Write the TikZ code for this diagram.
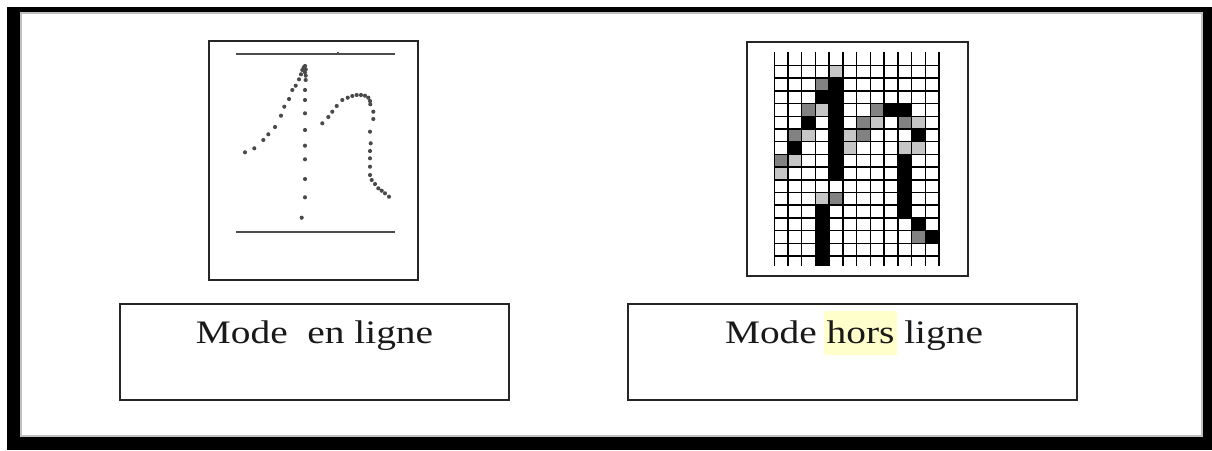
\documentclass[tikz,border=0pt]{standalone}
\usepackage{graphicx}
\usepackage{fontspec}
\setmainfont{Liberation Serif}
\usetikzlibrary{fit}
\definecolor{dotc}{HTML}{4A4A4A}
\definecolor{midgray}{HTML}{828282}
\definecolor{lightgray}{HTML}{C6C6C6}
\definecolor{hl}{HTML}{FFFFCC}
\begin{document}
\begin{tikzpicture}[x=0.75pt,y=-0.75pt,
  panel/.style={draw=black!85, line width=1.4pt, inner sep=0pt},
  labelbox/.style={draw=black!85, line width=1.4pt, inner sep=0pt},
  labeltext/.style={anchor=base, inner sep=0pt, text=black!90, font=\fontsize{24.6}{28}\selectfont},
  rule/.style={draw=black!70, line width=0.8pt},
  gridline/.style={draw=black, line width=1.1pt},
  pt/.style={fill=dotc}]
\useasboundingbox (0,0) rectangle (1212,450);

% outer frame
\fill[black] (7,7) rectangle (1212,450);
\fill[white] (20,12) rectangle (1203,437);
\draw[black!25, line width=1.2pt] (21,13) rectangle (1202,436);

% online panel: sampled pen trajectory
\node[panel, fit={(209,41) (418,280)}] (onpanel) {};
\coordinate (topA) at (236,54);
\coordinate (topB) at (395,54);
\coordinate (botA) at (236,232);
\coordinate (botB) at (395,232);
\coordinate (tickA) at (338,52);
\coordinate (tickB) at (338,54);
\draw[rule] (topA) -- (topB);
\draw[rule] (botA) -- (botB);
\draw[rule] (tickA) -- (tickB);
\foreach \x/\y in {245/152.3, 254.3/148.3, 263.3/140, 268.3/134.3, 275/127,
  281/115.7, 284.3/106.7, 289/99, 292.3/90, 295.7/85.7, 299/79.3, 301/74.3,
  302.3/70, 303.7/67.3, 305/66, 305.7/69.3, 305/72.3, 305.7/75.7, 305.7/80,
  305/90, 305/100, 305/113.3, 305/130, 305/145.7, 305/159.3, 305/179,
  305/197.3, 301.7/217.7,
  322.3/123.3, 328.3/117, 332.3/111.7, 336.7/106, 342.3/100, 347.7/97.7,
  352.3/96, 356.7/95, 361/95, 365/95.7, 368.3/97.7, 370/101, 370.3/104.3,
  373.3/111.7, 373.3/119, 370/131.7, 370.7/143.3, 370/151, 370/158.3,
  370/166.7, 370/175, 371.7/180, 375/184, 378.3/188.3, 381.7/190.7,
  385/193.3, 389/196.7}
  \fill[pt] (\x,\y) circle[radius=1.55pt];

% offline panel: pixel grid
\node[panel, fit={(747,42) (968,276)}] (offpanel) {};
\def\gx{774.3}\def\gy{65.5}\def\cw{13.72}\def\ch{12.7}
\newcommand\pixcell[3]{\fill[#3] (\gx+\cw*#1,\gy+\ch*#2) rectangle ++(\cw,\ch);}
% light cells
\foreach \c/\r in {4/0, 3/3, 2/5, 1/7, 0/8, 3/10, 7/4, 5/5, 5/6, 10/4, 9/6, 10/6}
  {\pixcell{\c}{\r}{lightgray}}
% medium cells
\foreach \c/\r in {3/1, 2/3, 1/5, 0/7, 4/10, 7/3, 6/4, 6/5, 9/4, 10/13}
  {\pixcell{\c}{\r}{midgray}}
% dark cells
\foreach \c/\r in {4/1, 4/2, 4/3, 4/4, 4/5, 4/6, 4/7, 4/8, 3/2, 2/4, 1/6,
  8/3, 9/3, 10/5, 9/7, 9/8, 9/9, 9/10, 9/11, 10/12, 11/13}
  {\pixcell{\c}{\r}{black}}
\fill[black] (\gx+\cw*3,\gy+\ch*11) rectangle (\gx+\cw*4,265.7);
\foreach \i in {0,...,12}
  \draw[gridline] (\gx+\cw*\i,51.7) -- (\gx+\cw*\i,265.7);
\foreach \j in {0,...,15}
  \draw[gridline] (\gx,\gy+\ch*\j) -- (\gx+\cw*12,\gy+\ch*\j);

% captions
\node[labelbox, fit={(120,304) (509,400)}] (onbox) {};
\node[labeltext] (ontext) at (314.5,343) {\scalebox{1.2}[1]{Mode\ \ en ligne}};

\node[labelbox, fit={(628,304) (1077,400)}] (offbox) {};
\node[fill=hl, rounded corners=1.5pt, inner sep=0pt, fit={(824,311) (897,355)}] (hlbg) {};
\node[labeltext] (offtext) at (854,343) {\scalebox{1.2}[1]{Mode hors ligne}};
\end{tikzpicture}
\end{document}
